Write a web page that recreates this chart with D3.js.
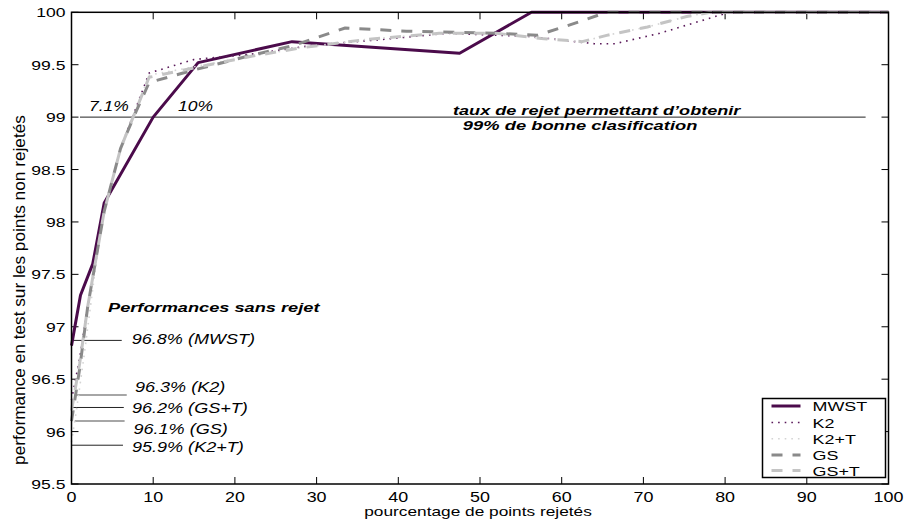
<!DOCTYPE html>
<html>
<head>
<meta charset="utf-8">
<script src="https://cdn.jsdelivr.net/npm/d3@7"></script>
<style>
  html, body { margin: 0; padding: 0; background: #fff; }
  svg { display: block; }
  text { font-family: "Liberation Sans", Arial, Helvetica, sans-serif; fill: #000; }
</style>
</head>
<body>
<svg id="chart" width="906" height="520"></svg>
<script>
// ---------- DATA ----------
const seriesNames = ["MWST", "K2", "K2+T", "GS", "GS+T"];

const mwstX = [0, 1.1, 2.6, 4, 10, 15.5, 27, 47.5, 56.3, 100];
const mwstY = [96.82, 97.3, 97.6, 98.18, 99.0, 99.52, 99.72, 99.61, 100, 100];

const k2X = [0, 1, 2, 4, 6, 9.5, 15, 22, 30, 38, 46, 56, 64, 66.5, 72, 80.5, 100];
const k2Y = [96.3, 96.7, 97.2, 98.1, 98.7, 99.42, 99.55, 99.6, 99.69, 99.74, 99.8, 99.77, 99.7, 99.7, 99.8, 100, 100];

const k2tX = [0, 0.6, 1.5, 3, 4, 6, 9.5, 15, 22, 28, 36, 45, 52, 57.5, 62.5, 65.5, 70.5, 75.3, 78.2, 100];
const k2tY = [95.9, 96.2, 96.7, 97.6, 98.1, 98.7, 99.4, 99.48, 99.58, 99.66, 99.74, 99.8, 99.8, 99.75, 99.72, 99.78, 99.86, 99.96, 100, 100];

const gsX = [0, 1, 2, 4, 6, 7.6, 9.5, 15, 22, 27, 33.5, 41, 52, 57, 61, 65.5, 100];
const gsY = [96.1, 96.6, 97.2, 98.1, 98.7, 99.0, 99.33, 99.45, 99.59, 99.68, 99.85, 99.82, 99.8, 99.78, 99.88, 100, 100];

const gstX = [0, 1, 2, 4, 6, 9.5, 15, 22, 28, 36, 45, 52, 57.5, 62.5, 65.5, 70.5, 75.3, 78.2, 100];
const gstY = [96.2, 96.65, 97.2, 98.1, 98.7, 99.38, 99.47, 99.58, 99.66, 99.74, 99.8, 99.8, 99.75, 99.72, 99.78, 99.86, 99.96, 100, 100];

const xTicks = [0, 10, 20, 30, 40, 50, 60, 70, 80, 90, 100];
const yTicks = [95.5, 96, 96.5, 97, 97.5, 98, 98.5, 99, 99.5, 100];

// performance without rejection (annotation values)
const noRejectLabels = ["96.8% (MWST)", "96.3% (K2)", "96.2% (GS+T)", "96.1% (GS)", "95.9% (K2+T)"];
const noRejectLineY = [96.87, 96.35, 96.23, 96.1, 95.87];

const threshold = 99;
const thresholdLabels = ["7.1%", "10%"];

// ---------- LAYOUT ----------
const W = 906, H = 520;
const m = { left: 71.5, right: 17.5, top: 12.3, bottom: 36 };
const x = d3.scaleLinear().domain([0, 100]).range([m.left, W - m.right]);
const y = d3.scaleLinear().domain([95.5, 100]).range([H - m.bottom, m.top]);

const svg = d3.select("#chart");

function label(g, px, py, str, o) {
  o = o || {};
  const sx = o.sx || 1.3;
  const sy = o.sy || 1;
  const t = g.append("text")
    .attr("transform", `translate(${px},${py}) scale(${sx},${sy})` + (o.rot ? ` rotate(${o.rot})` : ""))
    .attr("font-size", o.size || 14)
    .attr("text-anchor", o.anchor || "start")
    .attr("font-style", o.italic ? "italic" : "normal")
    .attr("font-weight", o.bold ? "bold" : "normal")
    .text(str);
  return t;
}

// ---------- AXES ----------
const axG = svg.append("g");
const tickLen = 7;
xTicks.forEach(v => {
  axG.append("line").attr("x1", x(v)).attr("x2", x(v)).attr("y1", y(95.5)).attr("y2", y(95.5) - tickLen).attr("stroke", "#000").attr("stroke-width", 1);
  axG.append("line").attr("x1", x(v)).attr("x2", x(v)).attr("y1", y(100)).attr("y2", y(100) + tickLen).attr("stroke", "#000").attr("stroke-width", 1);
  label(axG, x(v), y(95.5) + 18, String(v), { anchor: "middle", size: 14, sx: 1.28 });
});
yTicks.forEach(v => {
  axG.append("line").attr("x1", x(0)).attr("x2", x(0) + tickLen).attr("y1", y(v)).attr("y2", y(v)).attr("stroke", "#000").attr("stroke-width", 1);
  axG.append("line").attr("x1", x(100)).attr("x2", x(100) - tickLen).attr("y1", y(v)).attr("y2", y(v)).attr("stroke", "#000").attr("stroke-width", 1);
  label(axG, x(0) - 6, y(v) + 5, String(v), { anchor: "end", size: 13, sx: 1.35 });
});

// ---------- THRESHOLD LINE ----------
const annG = svg.append("g");
annG.append("line")
  .attr("x1", x(1.04)).attr("x2", x(97.2))
  .attr("y1", y(threshold)).attr("y2", y(threshold))
  .attr("stroke", "#222").attr("stroke-width", 1);

// ---------- NO-REJECT ANNOTATION LINES ----------
const lineSpan = [[0, 6.15], [0.4, 6.76], [0, 6.4], [0.4, 6.5], [0, 6.3]];
const lineCol = ["#222", "#888", "#222", "#888", "#222"];
noRejectLineY.forEach((v, i) => {
  annG.append("line")
    .attr("x1", x(lineSpan[i][0])).attr("x2", x(lineSpan[i][1]))
    .attr("y1", y(v)).attr("y2", y(v))
    .attr("stroke", lineCol[i]).attr("stroke-width", i % 2 ? 1.5 : 1);
});

// ---------- SERIES ----------
const series = [
  { name: seriesNames[0], xs: mwstX, ys: mwstY, color: "#4b0b4b", width: 3, dash: null },
  { name: seriesNames[1], xs: k2X, ys: k2Y, color: "#5a1a5a", width: 1.6, dash: "1.6,5" },
  { name: seriesNames[2], xs: k2tX, ys: k2tY, color: "#d4d4d4", width: 1.6, dash: "1.6,5" },
  { name: seriesNames[3], xs: gsX, ys: gsY, color: "#8a8a8a", width: 3, dash: "11,10" },
  { name: seriesNames[4], xs: gstX, ys: gstY, color: "#c4c4c4", width: 3, dash: "11,10" }
];
const lineGen = d3.line().x(d => x(d[0])).y(d => y(d[1]));
const serG = svg.append("g");
series.forEach(s => {
  const pts = s.xs.map((v, i) => [v, s.ys[i]]);
  const p = serG.append("path").attr("d", lineGen(pts))
    .attr("fill", "none").attr("stroke", s.color).attr("stroke-width", s.width)
    .attr("stroke-linejoin", "round");
  if (s.dash) p.attr("stroke-dasharray", s.dash);
});

// ---------- BOX ----------
svg.append("rect")
  .attr("x", x(0)).attr("y", y(100))
  .attr("width", x(100) - x(0)).attr("height", y(95.5) - y(100))
  .attr("fill", "none").attr("stroke", "#000").attr("stroke-width", 1.5);

// ---------- TEXT ANNOTATIONS ----------
const txtG = svg.append("g");
label(txtG, x(2.14), y(99.06), thresholdLabels[0], { italic: true, size: 14, sx: 1.25 });
label(txtG, x(13.04), y(99.06), thresholdLabels[1], { italic: true, size: 14, sx: 1.25 });
label(txtG, x(46.7), y(99.02), "taux de rejet permettant d\u2019obtenir", { italic: true, bold: true, size: 13.5, sx: 1.34 });
label(txtG, x(47.9), y(98.88), "99% de bonne clasification", { italic: true, bold: true, size: 13.5, sx: 1.36 });
label(txtG, x(4.47), y(97.14), "Performances sans rejet", { italic: true, bold: true, size: 13.5, sx: 1.35 });

const labPos = [[7.37, 96.84], [7.77, 96.38], [7.4, 96.18], [7.59, 95.98], [7.4, 95.81]];
noRejectLabels.forEach((s, i) => {
  label(txtG, x(labPos[i][0]), y(labPos[i][1]), s, { italic: true, size: 14, sx: 1.29 });
});

// axis titles
label(svg, (x(0) + x(100)) / 2 - 2, H - 4, "pourcentage de points rejetés", { anchor: "middle", size: 13.5, sx: 1.28 });
label(svg, 25, 290, "performance en test sur les points non rejetés", { anchor: "middle", size: 14.5, sx: 1.15, sy: 1.19, rot: -90 });

// ---------- LEGEND ----------
const lg = svg.append("g");
const lx0 = 762.5, ly0 = 398.5, lw = 123, lh = 79;
lg.append("rect").attr("x", lx0).attr("y", ly0).attr("width", lw).attr("height", lh)
  .attr("fill", "#fff").attr("stroke", "#000").attr("stroke-width", 1.5);
const rowY = [406, 422.5, 438.7, 455, 470.5];
series.forEach((s, i) => {
  const l = lg.append("line").attr("x1", lx0 + 9).attr("x2", lx0 + 38)
    .attr("y1", rowY[i]).attr("y2", rowY[i])
    .attr("stroke", s.color).attr("stroke-width", s.width);
  if (s.dash) l.attr("stroke-dasharray", s.dash);
  label(lg, lx0 + 50, rowY[i] + 5, s.name, { size: 13, sx: 1.38 });
});
</script>
</body>
</html>
